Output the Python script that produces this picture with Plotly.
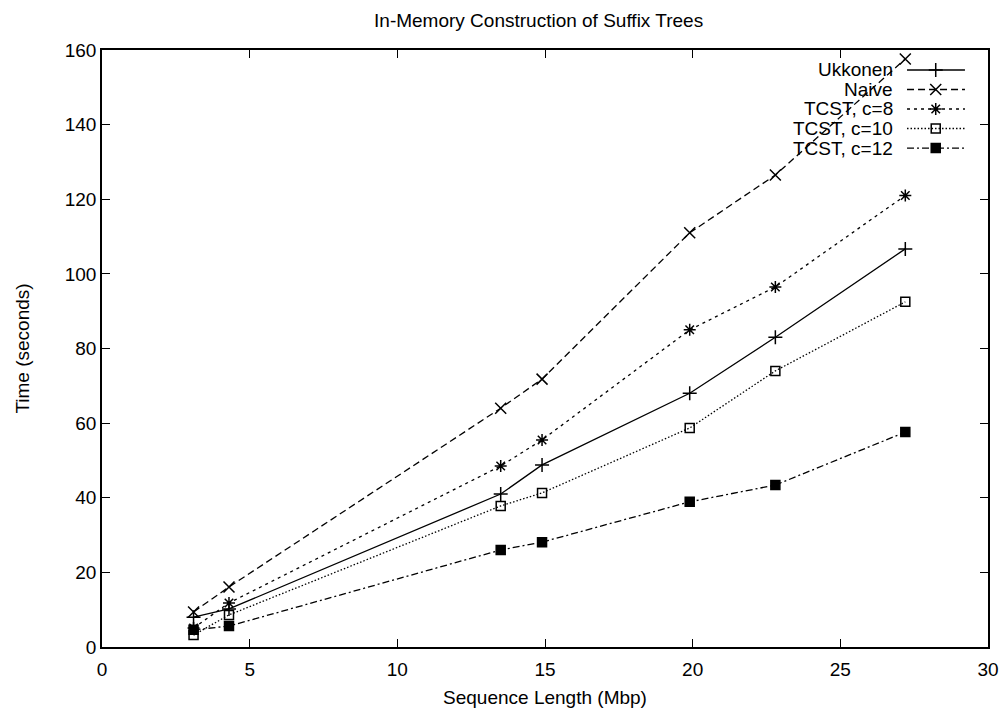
import plotly.graph_objects as go

x_mbp = [3.1, 4.3, 13.5, 14.9, 19.9, 22.8, 27.2]
ukkonen = [8.0, 10.2, 41.0, 48.8, 68.0, 83.0, 106.7]
naive = [9.4, 16.1, 64.0, 71.8, 111.0, 126.5, 157.6]
tcst8 = [5.1, 11.8, 48.5, 55.5, 85.0, 96.5, 121.0]
tcst10 = [3.2, 8.6, 37.8, 41.3, 58.7, 74.0, 92.5]
tcst12 = [4.6, 5.6, 26.0, 28.1, 38.9, 43.4, 57.6]

names = ["Ukkonen", "Naive", "TCST, c=8", "TCST, c=10", "TCST, c=12"]
series = [ukkonen, naive, tcst8, tcst10, tcst12]
dashes = ["solid", "7px,4px", "3px,4px", "1.5px,2px", "7px,3px,2px,3px"]
symbols = ["cross-thin", "x-thin", "asterisk-open", "square-open", "square"]
sizes = [10, 11, 10, 9, 9]

FS = 19

fig = go.Figure()
for n, s, d, sym, sz in zip(names, series, dashes, symbols, sizes):
    fig.add_trace(go.Scatter(
        x=x_mbp, y=s, mode="lines+markers", name=n, showlegend=False,
        line=dict(color="black", width=1.3, dash=d),
        marker=dict(symbol=sym, size=sz, color="black",
                    line=dict(color="black", width=1.5)),
    ))

# manual gnuplot-style legend (text right-aligned, sample on the right)
row_y = [0.9665, 0.9338, 0.9012, 0.8685, 0.8358]
for n, d, sym, sz, yy in zip(names, dashes, symbols, sizes, row_y):
    fig.add_trace(go.Scatter(
        x=[0.9086, 0.941, 0.974], y=[yy, yy, yy], xaxis="x2", yaxis="y2",
        mode="lines", showlegend=False, hoverinfo="skip",
        line=dict(color="black", width=1.3, dash=d),
    ))
    fig.add_trace(go.Scatter(
        x=[0.941], y=[yy], xaxis="x2", yaxis="y2",
        mode="markers", showlegend=False, hoverinfo="skip",
        marker=dict(symbol=sym, size=sz, color="black",
                    line=dict(color="black", width=1.5)),
    ))
    fig.add_annotation(x=0.895, y=yy, xref="x2 domain", yref="y2 domain",
                       text=n, showarrow=False, xanchor="right", yanchor="middle",
                       font=dict(size=FS, color="black"))

axis_common = dict(
    showline=True, linecolor="black", linewidth=1.5, mirror="ticks",
    ticks="inside", ticklen=8, tickcolor="black", tickwidth=1,
    showgrid=False, zeroline=False, automargin=False,
    tickfont=dict(size=FS, color="black"),
)

fig.update_layout(
    width=1003, height=708,
    margin=dict(l=102, r=15, t=50, b=61),
    paper_bgcolor="white", plot_bgcolor="white",
    font=dict(family="Liberation Sans, Arial, sans-serif", color="black"),
    title=dict(text="In-Memory Construction of Suffix Trees", x=0.537, xanchor="center",
               y=1 - 20 / 708, yanchor="middle", font=dict(size=FS, color="black")),
    xaxis=dict(range=[0, 30], tickvals=[0, 5, 10, 15, 20, 25, 30],
               ticklabelstandoff=4,
               title=dict(text="Sequence Length (Mbp)", font=dict(size=FS), standoff=12),
               **axis_common),
    yaxis=dict(range=[0, 160], tickvals=[0, 20, 40, 60, 80, 100, 120, 140, 160],
               title=dict(text="Time (seconds)", font=dict(size=FS), standoff=30),
               **axis_common),
    xaxis2=dict(overlaying="x", range=[0, 1], visible=False),
    yaxis2=dict(overlaying="y", range=[0, 1], visible=False),
)

fig.write_html("out.html")
